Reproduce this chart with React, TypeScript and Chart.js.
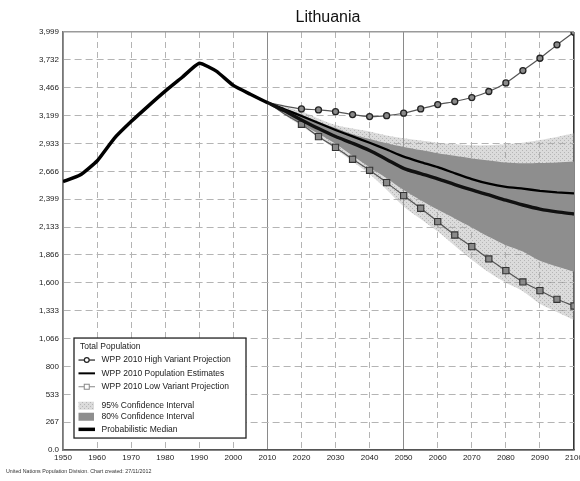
import { useEffect, useRef } from 'react';
import { Chart, registerables } from 'chart.js';

Chart.register(...registerables);

const TITLE = 'Lithuania';
const FOOTER = 'United Nations Population Division. Chart created: 27/11/2012';
const LEGEND_TITLE = 'Total Population';

const HIST_YEARS = [1950, 1955, 1960, 1965, 1970, 1975, 1980, 1985, 1990, 1995, 2000, 2005, 2010];
const HIST_POP = [2567, 2630, 2765, 2980, 3142, 3290, 3433, 3566, 3700, 3625, 3488, 3404, 3324];

const PROJ_YEARS = [2010, 2015, 2020, 2025, 2030, 2035, 2040, 2045, 2050, 2055, 2060, 2065, 2070, 2075, 2080, 2085, 2090, 2095, 2100];
const MEDIUM = [3324, 3260, 3195, 3128, 3062, 3000, 2940, 2875, 2807, 2755, 2706, 2648, 2592, 2548, 2518, 2500, 2480, 2465, 2456];
const MEDIAN = [3324, 3245, 3158, 3075, 2999, 2935, 2865, 2780, 2695, 2645, 2595, 2540, 2488, 2440, 2390, 2344, 2305, 2278, 2258];
const HIGH = [3324, 3290, 3263, 3254, 3237, 3209, 3190, 3199, 3222, 3263, 3305, 3334, 3372, 3430, 3512, 3630, 3748, 3876, 3997];
const LOW = [3324, 3215, 3116, 2998, 2895, 2782, 2676, 2558, 2434, 2313, 2185, 2057, 1946, 1828, 1716, 1608, 1525, 1442, 1378];
const PI80_UP = [3324, 3265, 3210, 3140, 3080, 3020, 2975, 2935, 2900, 2870, 2840, 2815, 2790, 2770, 2750, 2743, 2745, 2750, 2759];
const PI80_LO = [3324, 3225, 3120, 3025, 2930, 2815, 2705, 2600, 2488, 2390, 2300, 2215, 2130, 2040, 1960, 1900, 1810, 1755, 1706];
const PI95_UP = [3324, 3285, 3240, 3170, 3110, 3075, 3046, 3010, 2982, 2960, 2940, 2925, 2915, 2915, 2925, 2940, 2965, 2995, 3030];
const PI95_LO = [3324, 3205, 3100, 2990, 2880, 2760, 2640, 2490, 2330, 2210, 2090, 1955, 1820, 1700, 1600, 1520, 1400, 1320, 1244];

const X_TICKS = [1950, 1960, 1970, 1980, 1990, 2000, 2010, 2020, 2030, 2040, 2050, 2060, 2070, 2080, 2090, 2100];
const Y_TICK_VALUES = [0, 266.6, 533.2, 799.8, 1066.4, 1333, 1599.6, 1866.2, 2132.8, 2399.4, 2666, 2932.6, 3199.2, 3465.8, 3732.4, 3999];
const Y_TICK_LABELS = ['0.0', '267', '533', '800', '1,066', '1,333', '1,600', '1,866', '2,133', '2,399', '2,666', '2,933', '3,199', '3,466', '3,732', '3,999'];

const LEGEND_ITEMS = [
  'WPP 2010 High Variant Projection',
  'WPP 2010 Population Estimates',
  'WPP 2010 Low Variant Projection',
  '95% Confidence Interval',
  '80% Confidence Interval',
  'Probabilistic Median',
];

const FONT = "'Liberation Sans', Arial, sans-serif";
const DARK_BAND = '#8e8e8e';
const FIRST_MARKER_YEAR = 2020;

const toXY = (xs: number[], ys: number[]) => xs.map((x, i) => ({ x, y: ys[i] }));

function makePattern(ctx: CanvasRenderingContext2D): CanvasPattern | string {
  const c = document.createElement('canvas');
  c.width = 4;
  c.height = 4;
  const g = c.getContext('2d');
  if (!g) return '#dadada';
  g.fillStyle = 'rgba(170,170,170,0.42)';
  g.fillRect(0, 0, 4, 4);
  g.fillStyle = 'rgba(110,110,110,0.35)';
  g.fillRect(0, 0, 1, 1);
  g.fillRect(2, 2, 1, 1);
  return ctx.createPattern(c, 'repeat') || '#dadada';
}

export default function App() {
  const canvasRef = useRef<HTMLCanvasElement | null>(null);

  useEffect(() => {
    const canvas = canvasRef.current;
    if (!canvas) return;
    const c2d = canvas.getContext('2d') as CanvasRenderingContext2D;
    const pattern = makePattern(c2d);

    const shiftPlugin = {
      id: 'shiftTitles',
      afterLayout(chart: any) {
        chart.boxes.forEach((b: any) => {
          if (b.options && b.options.text === TITLE) {
            b.left += 41;
            b.right += 41;
          }
          if (b.options && b.options.text === FOOTER) {
            b.left += 6;
            b.right += 6;
          }
        });
      },
    };

    const legendPlugin = {
      id: 'unLegend',
      afterDraw(chart: any) {
        const ctx = chart.ctx as CanvasRenderingContext2D;
        const a = chart.chartArea;
        const x0 = a.left + 11;
        const y0 = a.bottom - 112;
        const w = 172;
        const h = 100;
        ctx.save();
        ctx.fillStyle = '#ffffff';
        ctx.fillRect(x0, y0, w, h);
        ctx.strokeStyle = '#222';
        ctx.lineWidth = 1.3;
        ctx.strokeRect(x0, y0, w, h);

        ctx.font = `8.5px ${FONT}`;
        ctx.fillStyle = '#1a1a1a';
        ctx.textBaseline = 'middle';
        ctx.textAlign = 'left';
        ctx.fillText(LEGEND_TITLE, x0 + 6, y0 + 9);

        const rows = [22, 35.3, 48.7, 67.7, 78.7, 91.3];
        const ix0 = x0 + 4.5;
        const ix1 = x0 + 21;
        const icx = (ix0 + ix1) / 2;
        rows.forEach((ry, i) => {
          const y = y0 + ry;
          if (i === 0) {
            ctx.strokeStyle = '#222';
            ctx.lineWidth = 1.2;
            ctx.beginPath(); ctx.moveTo(ix0, y); ctx.lineTo(ix1, y); ctx.stroke();
            ctx.beginPath(); ctx.arc(icx, y, 2.4, 0, Math.PI * 2);
            ctx.fillStyle = '#ffffff'; ctx.fill(); ctx.stroke();
          } else if (i === 1) {
            ctx.strokeStyle = '#000';
            ctx.lineWidth = 2;
            ctx.beginPath(); ctx.moveTo(ix0, y); ctx.lineTo(ix1, y); ctx.stroke();
          } else if (i === 2) {
            ctx.strokeStyle = '#888';
            ctx.lineWidth = 1;
            ctx.beginPath(); ctx.moveTo(ix0, y); ctx.lineTo(ix1, y); ctx.stroke();
            ctx.fillStyle = '#ffffff';
            ctx.fillRect(icx - 2.5, y - 2.5, 5, 5);
            ctx.strokeRect(icx - 2.5, y - 2.5, 5, 5);
          } else if (i === 3) {
            ctx.fillStyle = '#ffffff';
            ctx.fillRect(ix0, y - 4, ix1 - ix0 - 1, 8);
            ctx.fillStyle = pattern as any;
            ctx.fillRect(ix0, y - 4, ix1 - ix0 - 1, 8);
          } else if (i === 4) {
            ctx.fillStyle = DARK_BAND;
            ctx.fillRect(ix0, y - 4, ix1 - ix0 - 1, 8);
          } else {
            ctx.strokeStyle = '#000';
            ctx.lineWidth = 3.5;
            ctx.beginPath(); ctx.moveTo(ix0, y); ctx.lineTo(ix1, y); ctx.stroke();
          }
          ctx.fillStyle = '#1a1a1a';
          ctx.fillText(LEGEND_ITEMS[i], x0 + 27.5, y);
        });
        ctx.restore();
      },
    };

    const estimates = toXY(HIST_YEARS, HIST_POP).concat(toXY(PROJ_YEARS.slice(1), MEDIUM.slice(1)));

    // Chart.js draws datasets in reverse order: first dataset ends up on top.
    const chart = new Chart(canvas, {
      type: 'line',
      data: {
        datasets: [
          {
            label: 'Probabilistic Median',
            data: toXY(PROJ_YEARS, MEDIAN),
            borderColor: '#111',
            borderWidth: 3.4,
            pointRadius: 0,
            tension: 0.3,
            fill: false,
          },
          {
            label: 'WPP 2010 Population Estimates',
            data: estimates,
            borderColor: '#000',
            borderWidth: 3.5,
            pointRadius: 0,
            tension: 0.15,
            fill: false,
            segment: {
              borderWidth: (c: any) => (c.p0.parsed.x < 2010 ? 3.5 : 2.3),
            },
          },
          {
            label: 'WPP 2010 High Variant Projection',
            data: toXY(PROJ_YEARS, HIGH),
            borderColor: '#555',
            borderWidth: 1.2,
            pointRadius: (c: any) => (c.raw && c.raw.x >= FIRST_MARKER_YEAR ? 3 : 0),
            pointStyle: 'circle',
            pointBackgroundColor: '#8a8a8a',
            pointBorderColor: '#222',
            pointBorderWidth: 1.3,
            tension: 0.2,
            fill: false,
          },
          {
            label: 'WPP 2010 Low Variant Projection',
            data: toXY(PROJ_YEARS, LOW),
            borderColor: '#555',
            borderWidth: 1.2,
            pointRadius: (c: any) => (c.raw && c.raw.x >= FIRST_MARKER_YEAR ? 4.4 : 0),
            pointStyle: 'rect',
            pointBackgroundColor: '#8a8a8a',
            pointBorderColor: '#333',
            pointBorderWidth: 1.1,
            tension: 0.2,
            fill: false,
          },
          {
            label: '80% upper',
            data: toXY(PROJ_YEARS, PI80_UP),
            borderWidth: 0,
            pointRadius: 0,
            tension: 0.3,
            fill: '+1',
            backgroundColor: DARK_BAND,
            borderColor: 'rgba(0,0,0,0)',
          },
          {
            label: '80% lower',
            data: toXY(PROJ_YEARS, PI80_LO),
            borderWidth: 0,
            pointRadius: 0,
            tension: 0.3,
            fill: false,
            borderColor: 'rgba(0,0,0,0)',
          },
          {
            label: '95% upper',
            data: toXY(PROJ_YEARS, PI95_UP),
            borderWidth: 0,
            pointRadius: 0,
            tension: 0.3,
            fill: '+1',
            backgroundColor: pattern as any,
            borderColor: 'rgba(0,0,0,0)',
          },
          {
            label: '95% lower',
            data: toXY(PROJ_YEARS, PI95_LO),
            borderWidth: 0,
            pointRadius: 0,
            tension: 0.3,
            fill: false,
            borderColor: 'rgba(0,0,0,0)',
          },
        ],
      },
      options: {
        responsive: false,
        animation: false,
        events: [],
        layout: { padding: { left: 0, right: 6, top: 0, bottom: 0 } },
        plugins: {
          legend: { display: false },
          tooltip: { enabled: false },
          title: {
            display: true,
            text: TITLE,
            color: '#111',
            font: { family: FONT, size: 16, weight: 'normal', lineHeight: 1.2 },
            padding: { top: 8, bottom: 4.8 },
          },
          subtitle: {
            display: true,
            text: FOOTER,
            position: 'bottom',
            align: 'start',
            color: '#333',
            font: { family: FONT, size: 5.3, weight: 'normal', lineHeight: 1.2 },
            padding: { top: 2.6, bottom: 6 },
          },
        },
        scales: {
          x: {
            type: 'linear',
            min: 1950,
            max: 2100,
            afterBuildTicks: (s: any) => {
              s.ticks = X_TICKS.map((v) => ({ value: v }));
            },
            afterFit: (s: any) => {
              s.height = 16;
              s.paddingLeft = 0;
              s.paddingRight = 0;
            },
            ticks: {
              autoSkip: false,
              maxRotation: 0,
              padding: 3,
              color: '#222',
              font: { family: FONT, size: 8 },
              callback: (v: any) => String(v),
            },
            grid: {
              drawTicks: false,
              color: (c: any) => {
                const v = c.tick ? c.tick.value : undefined;
                if (v === 2100) return '#333';
                if (v === 2010 || v === 2050) return '#8a8a8a';
                return '#b4b4b4';
              },
              lineWidth: (c: any) => (c.tick && c.tick.value === 2100 ? 1.6 : 1),
            },
            border: {
              display: true,
              color: '#555',
              width: 1.6,
              dash: (c: any) => {
                const v = c.tick ? c.tick.value : undefined;
                if (v === undefined || v === 2010 || v === 2050 || v === 2100 || v === 1950) return [];
                return [6, 4];
              },
            },
          },
          y: {
            type: 'linear',
            min: 0,
            max: 3999,
            afterBuildTicks: (s: any) => {
              s.ticks = Y_TICK_VALUES.map((v) => ({ value: v }));
            },
            afterFit: (s: any) => {
              s.width = 63;
              s.paddingTop = 0;
              s.paddingBottom = 0;
            },
            ticks: {
              autoSkip: false,
              padding: 4,
              color: '#222',
              font: { family: FONT, size: 8 },
              callback: (_v: any, i: number) => Y_TICK_LABELS[i],
            },
            grid: {
              drawTicks: false,
              color: (c: any) => (c.index === Y_TICK_VALUES.length - 1 ? '#9a9a9a' : '#b4b4b4'),
              lineWidth: (c: any) => (c.index === Y_TICK_VALUES.length - 1 ? 1.6 : 1),
            },
            border: {
              display: true,
              color: '#777',
              width: 1.6,
              dash: (c: any) => {
                if (!c.tick) return [];
                if (c.index === 0 || c.index === Y_TICK_VALUES.length - 1) return [];
                return [7, 4];
              },
            },
          },
        },
      },
      plugins: [shiftPlugin, legendPlugin],
    } as any);

    return () => {
      chart.destroy();
    };
  }, []);

  return (
    <div style={{ position: 'fixed', left: 0, top: 0, width: 580, height: 481, background: '#fff' }}>
      <canvas ref={canvasRef} width={580} height={481} style={{ display: 'block', width: 580, height: 481 }} />
    </div>
  );
}
